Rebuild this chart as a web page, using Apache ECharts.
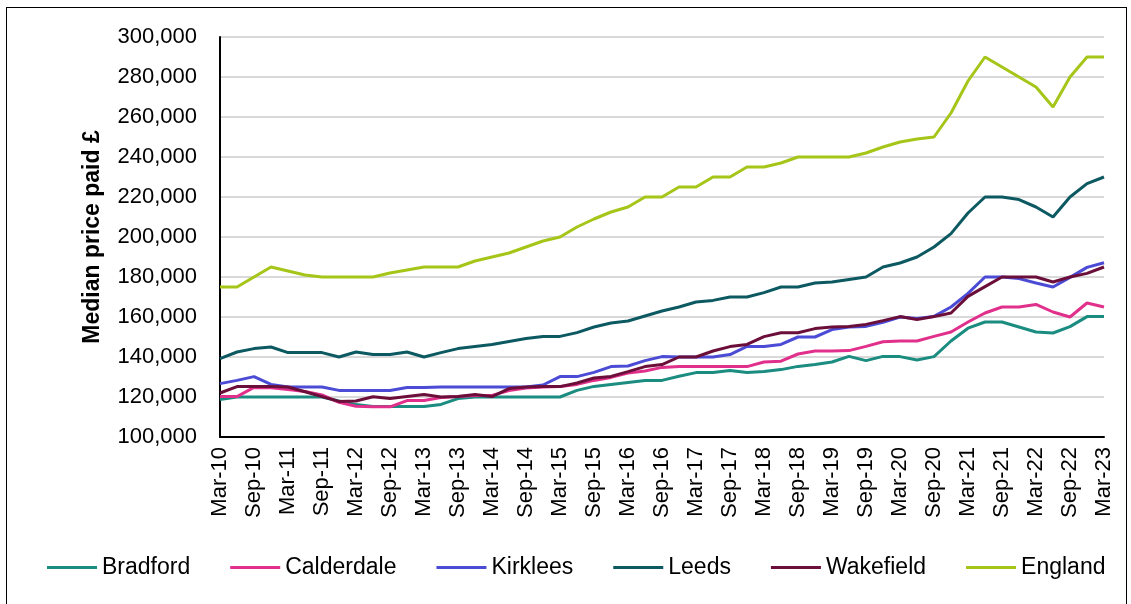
<!DOCTYPE html>
<html>
<head>
<meta charset="utf-8">
<script src="https://cdn.jsdelivr.net/npm/echarts@6/dist/echarts.min.js"></script>
<style>
  html, body { margin: 0; padding: 0; background: #ffffff; }
  #wrap { position: relative; width: 1131px; height: 604px; overflow: hidden; }
  #frame { position: absolute; left: 6px; top: 7px; width: 1121px; height: 620px; border: 1px solid #000; box-sizing: border-box; }
  #chart { position: absolute; left: 0; top: 0; width: 1131px; height: 604px; }
</style>
</head>
<body>
<div id="wrap">
  <div id="frame"></div>
  <div id="chart"></div>
</div>
<script>
// Quarterly periods, Mar-10 to Mar-23
const quarters = [
  'Mar-10','Jun-10','Sep-10','Dec-10','Mar-11','Jun-11','Sep-11','Dec-11',
  'Mar-12','Jun-12','Sep-12','Dec-12','Mar-13','Jun-13','Sep-13','Dec-13',
  'Mar-14','Jun-14','Sep-14','Dec-14','Mar-15','Jun-15','Sep-15','Dec-15',
  'Mar-16','Jun-16','Sep-16','Dec-16','Mar-17','Jun-17','Sep-17','Dec-17',
  'Mar-18','Jun-18','Sep-18','Dec-18','Mar-19','Jun-19','Sep-19','Dec-19',
  'Mar-20','Jun-20','Sep-20','Dec-20','Mar-21','Jun-21','Sep-21','Dec-21',
  'Mar-22','Jun-22','Sep-22','Dec-22','Mar-23'
];

// Median price paid (£), year ending each quarter
const bradford = [
  118700,120000,120000,120000,120000,120000,120000,118000,116200,115200,115200,115200,115200,116300,
  119200,120000,120000,120000,120000,120000,120000,123300,125300,126300,127300,128200,128300,
  130400,132200,132200,133300,132200,132700,133700,135300,136300,137500,140300,138200,140300,
  140200,138500,140200,148000,154400,157500,157500,155000,152500,152000,155200,160200,160200
];
const calderdale = [
  120200,120200,124800,124600,123800,122800,121000,117300,115400,115100,115100,118200,118300,119800,
  120200,120800,120800,123200,124500,125000,125300,126300,128300,129800,132000,133000,134800,
  135200,135200,135200,135200,135200,137500,137900,141500,143000,143000,143200,145300,147600,
  148000,148000,150300,152500,157500,162000,165000,165000,166300,162500,160000,167000,165000
];
const kirklees = [
  126700,128300,130200,126300,125000,125000,125000,123300,123300,123300,123300,124700,124700,125000,
  125000,125000,125000,125000,125000,126000,130200,130200,132300,135200,135500,138200,140200,
  140000,140000,140000,141200,145300,145300,146300,150000,150000,153700,155000,155300,157300,
  160000,159200,160300,165000,171800,180000,180000,179200,177000,175000,179800,184800,187100
];
const leeds = [
  139200,142500,144200,145000,142200,142200,142200,140000,142500,141200,141200,142500,140000,142200,
  144200,145300,146300,147800,149200,150300,150300,152200,155000,157000,158000,160500,163000,
  165000,167500,168300,170000,170000,172200,175000,175000,177000,177500,178800,180000,185000,
  187000,190000,195000,201700,212000,220000,220000,218700,215000,210000,220000,226700,230000
];
const wakefield = [
  122000,125200,125200,125200,125000,122600,120200,117800,118000,120100,119200,120300,121300,120000,
  120300,121300,120200,124200,125000,125200,125200,127000,129500,130300,132700,135200,136200,
  140000,140000,143000,145200,146300,150200,152100,152100,154200,155000,155300,156300,158200,
  160200,158700,160200,162000,170300,175200,180000,180000,180000,177500,180000,181800,185000
];
const england = [
  175000,175000,180000,185000,183000,181000,180000,180000,180000,180000,182000,183500,185000,185000,
  185000,188000,190000,192000,195000,198000,200000,205000,209000,212500,215000,220000,220000,
  225000,225000,230000,230000,235000,235000,237000,240000,240000,240000,240000,242000,245000,
  247500,249000,250000,262000,278000,290000,285000,280000,275000,265000,280000,290000,290000
];

const seriesNames = ['Bradford', 'Calderdale', 'Kirklees', 'Leeds', 'Wakefield', 'England'];
const seriesData = [bradford, calderdale, kirklees, leeds, wakefield, england];
const seriesColors = ['#1a8c80', '#e0308c', '#4b4bd6', '#0c5962', '#6b0f3a', '#a5c618'];

const font = 'Liberation Sans, Arial, sans-serif';

const chart = echarts.init(document.getElementById('chart'), null, { renderer: 'canvas' });
chart.setOption({
  animation: false,
  backgroundColor: 'transparent',
  grid: { left: 220, right: 27, top: 37, bottom: 167, containLabel: false },
  legend: {
    left: 42,
    top: 551,
    itemWidth: 50,
    itemHeight: 3,
    itemGap: 40,
    icon: 'rect',
    textStyle: { fontFamily: font, fontSize: 23, color: '#000' },
    data: seriesNames
  },
  xAxis: {
    type: 'category',
    data: quarters,
    boundaryGap: false,
    axisLine: { lineStyle: { color: '#000', width: 2 } },
    axisTick: { show: false },
    axisLabel: {
      interval: 1,
      rotate: 90,
      margin: 10,
      fontFamily: font,
      fontSize: 22,
      color: '#000'
    },
    splitLine: { show: false }
  },
  yAxis: {
    type: 'value',
    min: 100000,
    max: 300000,
    interval: 20000,
    name: 'Median price paid £',
    nameLocation: 'middle',
    nameGap: 116,
    nameTextStyle: { fontFamily: font, fontSize: 23, fontWeight: 'bold', color: '#000' },
    axisLine: { show: true, lineStyle: { color: '#000', width: 2 } },
    axisTick: { show: false },
    axisLabel: {
      margin: 23,
      fontFamily: font,
      fontSize: 22,
      color: '#000',
      formatter: v => v.toLocaleString('en-GB')
    },
    splitLine: { lineStyle: { color: '#d9d9d9', width: 2 } }
  },
  series: seriesNames.map((name, k) => ({
    name: name,
    type: 'line',
    data: seriesData[k],
    symbol: 'none',
    color: seriesColors[k],
    lineStyle: { width: 3, color: seriesColors[k] }
  }))
});
</script>
</body>
</html>
